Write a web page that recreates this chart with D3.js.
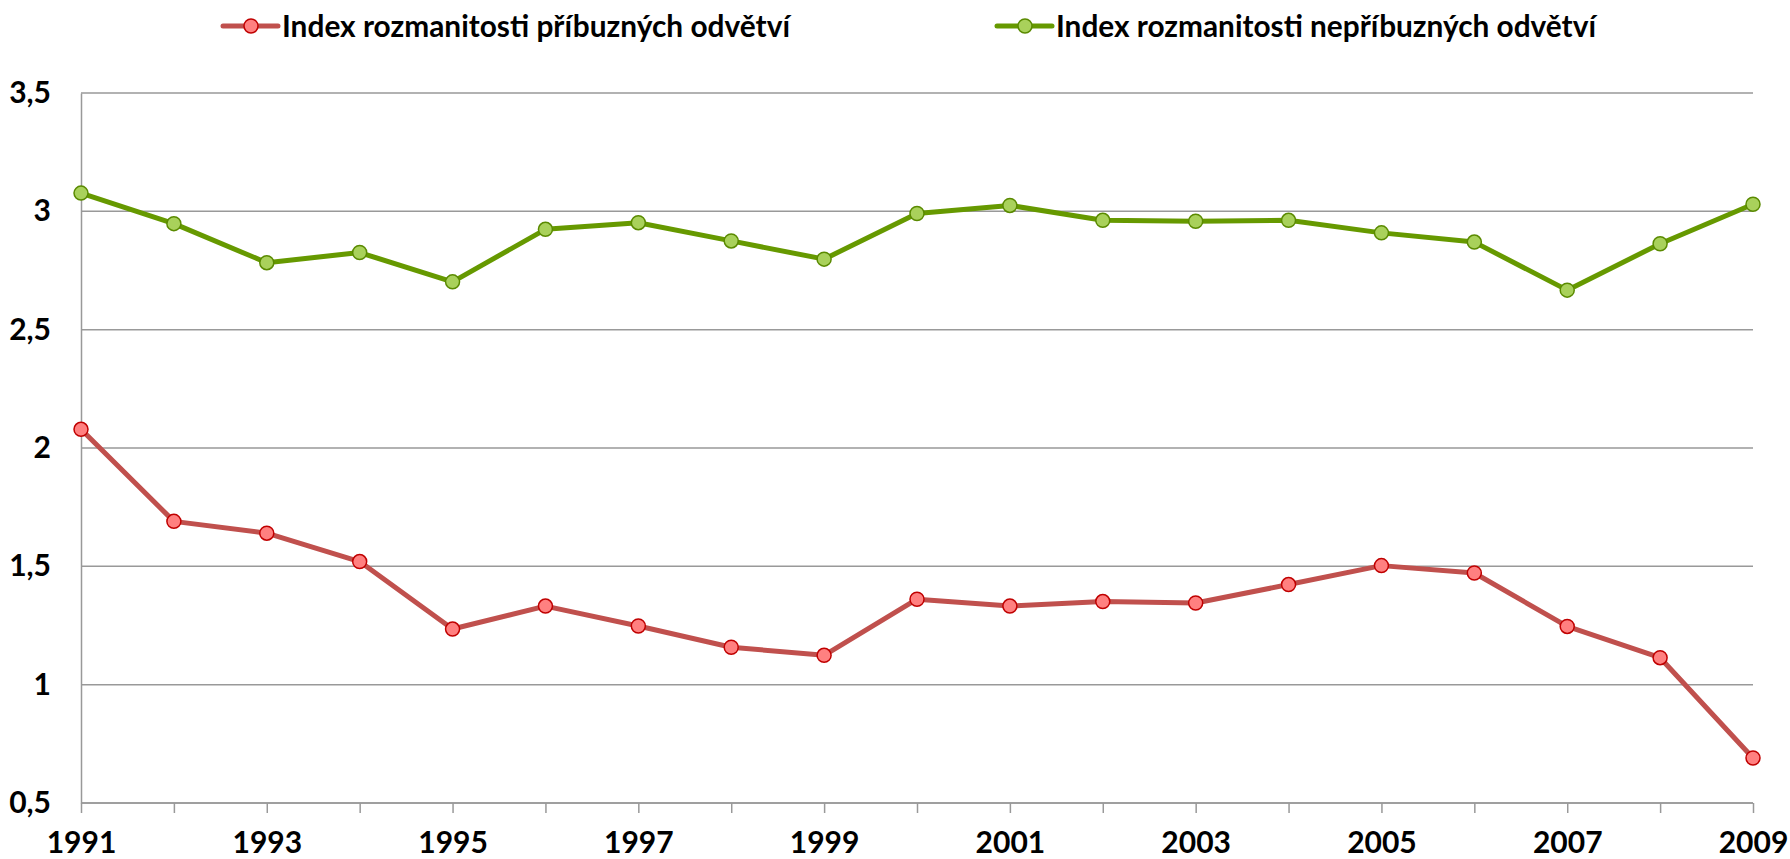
<!DOCTYPE html>
<html>
<head>
<meta charset="utf-8">
<script src="https://cdn.jsdelivr.net/npm/d3@7"></script>
<style>
  body { margin: 0; background: #fff; }
  text { font-family: Lato, "Open Sans", sans-serif; font-weight: bold; fill: #000; }
</style>
</head>
<body>
<div class="chart"></div>
<script>
// data
var years = [1991, 1992, 1993, 1994, 1995, 1996, 1997, 1998, 1999, 2000,
  2001, 2002, 2003, 2004, 2005, 2006, 2007, 2008, 2009];
var related = [2.079, 1.690, 1.640, 1.520, 1.235, 1.332, 1.248, 1.158, 1.124, 1.361,
  1.332, 1.351, 1.345, 1.423, 1.503, 1.472, 1.246, 1.114, 0.690];
var unrelated = [3.077, 2.948, 2.783, 2.826, 2.702, 2.924, 2.952, 2.875, 2.798, 2.991,
  3.025, 2.962, 2.958, 2.962, 2.909, 2.870, 2.667, 2.863, 3.030];
var seriesNames = ["Index rozmanitosti příbuzných odvětví", "Index rozmanitosti nepříbuzných odvětví"];
var yTicks = [0.5, 1, 1.5, 2, 2.5, 3, 3.5];
var xTickLabels = [1991, 1993, 1995, 1997, 1999, 2001, 2003, 2005, 2007, 2009];

var svgWidth = 1790;
var svgHeight = 859;

var margin = { top: 93, right: 37, bottom: 56, left: 81 };
var width = svgWidth - margin.left - margin.right;
var height = svgHeight - margin.top - margin.bottom;

var svg = d3.select(".chart")
  .append("svg")
  .attr("width", svgWidth)
  .attr("height", svgHeight);

var chartGroup = svg.append("g")
  .attr("transform", `translate(${margin.left}, ${margin.top})`);

var xScale = d3.scaleLinear()
  .domain([d3.min(years), d3.max(years)])
  .range([0, width]);

var yScale = d3.scaleLinear()
  .domain([0.5, 3.5])
  .range([height, 0]);

var gridColor = "#999999";

// horizontal grid lines
chartGroup.append("g")
  .selectAll("line")
  .data(yTicks)
  .enter()
  .append("line")
  .attr("x1", 0)
  .attr("x2", width)
  .attr("y1", d => yScale(d))
  .attr("y2", d => yScale(d))
  .attr("stroke", gridColor)
  .attr("stroke-width", 1.5);

// y axis
var leftAxis = d3.axisLeft(yScale)
  .tickValues(yTicks)
  .tickSize(0)
  .tickPadding(30)
  .tickFormat(d => String(d).replace(".", ","));

var yAxis = chartGroup.append("g").call(leftAxis);
yAxis.select(".domain").attr("stroke", gridColor).attr("stroke-width", 1.5);
yAxis.selectAll("text")
  .attr("font-size", 30)
  .attr("font-family", "Lato")
  .attr("font-weight", 900)
  .attr("fill", "#000");

// x axis
var bottomAxis = d3.axisBottom(xScale)
  .tickValues(years)
  .tickSize(10)
  .tickPadding(19)
  .tickFormat(d => xTickLabels.indexOf(d) >= 0 ? d : "");

var xAxis = chartGroup.append("g")
  .attr("transform", `translate(0, ${height})`)
  .call(bottomAxis);
xAxis.select(".domain").attr("stroke", gridColor).attr("stroke-width", 1.5)
  .attr("d", `M0,0H${width}`);
xAxis.selectAll(".tick line").attr("stroke", gridColor).attr("stroke-width", 1.5);
xAxis.selectAll("text")
  .attr("font-size", 30)
  .attr("font-family", "Lato")
  .attr("font-weight", 900)
  .attr("fill", "#000");

var styles = [
  { values: related, line: "#C0504D", fill: "#FF8080", stroke: "#C00000" },
  { values: unrelated, line: "#669900", fill: "#A9D15B", stroke: "#5A8A00" }
];

var line = d3.line()
  .x((d, i) => xScale(years[i]))
  .y(d => yScale(d));

styles.forEach(function(s) {
  chartGroup.append("path")
    .datum(s.values)
    .attr("fill", "none")
    .attr("stroke", s.line)
    .attr("stroke-width", 5)
    .attr("stroke-linejoin", "round")
    .attr("d", line);

  chartGroup.append("g")
    .selectAll("circle")
    .data(s.values)
    .enter()
    .append("circle")
    .attr("cx", (d, i) => xScale(years[i]))
    .attr("cy", d => yScale(d))
    .attr("r", 7)
    .attr("fill", s.fill)
    .attr("stroke", s.stroke)
    .attr("stroke-width", 1.5);
});

// legend
var legendX = [223, 997];
var legendWidths = [508, 540];
styles.forEach(function(s, i) {
  var g = svg.append("g").attr("transform", `translate(${legendX[i]}, 26)`);
  g.append("line")
    .attr("x1", 0).attr("x2", 55)
    .attr("y1", 0).attr("y2", 0)
    .attr("stroke", s.line)
    .attr("stroke-width", 5)
    .attr("stroke-linecap", "round");
  g.append("circle")
    .attr("cx", 28).attr("cy", 0).attr("r", 7)
    .attr("fill", s.fill)
    .attr("stroke", s.stroke)
    .attr("stroke-width", 1.5);
  g.append("text")
    .attr("x", 59)
    .attr("y", 11)
    .attr("font-size", 30)
    .attr("font-weight", 900)
    .attr("textLength", legendWidths[i])
    .attr("lengthAdjust", "spacingAndGlyphs")
    .text(seriesNames[i]);
});
</script>
</body>
</html>
